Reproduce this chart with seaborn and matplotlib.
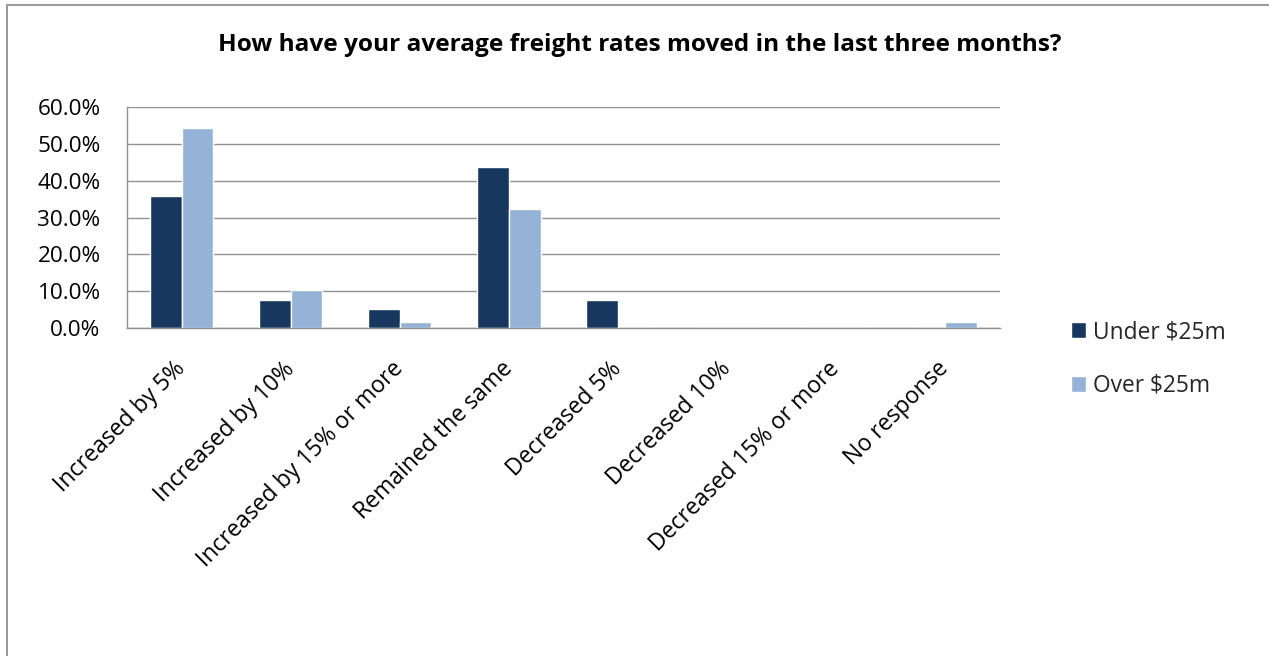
import matplotlib
matplotlib.use("Agg")
import matplotlib.pyplot as plt
from matplotlib.lines import Line2D
from matplotlib.ticker import PercentFormatter
import seaborn as sns
import pandas as pd

categories = [
    "Increased by 5%",
    "Increased by 10%",
    "Increased by 15% or more",
    "Remained the same",
    "Decreased 5%",
    "Decreased 10%",
    "Decreased 15% or more",
    "No response",
]
under_25m = [35.9, 7.7, 5.1, 43.6, 7.7, 0.0, 0.0, 0.0]
over_25m = [54.4, 10.3, 1.5, 32.4, 0.0, 0.0, 0.0, 1.5]
series_names = ["Under $25m", "Over $25m"]
title = "How have your average freight rates moved in the last three months?"

df = pd.DataFrame({
    "category": categories * 2,
    "share": under_25m + over_25m,
    "group": [series_names[0]] * len(categories) + [series_names[1]] * len(categories),
})

sns.set_theme(style="white")
plt.rcParams["font.family"] = ["Open Sans", "DejaVu Sans"]

fig = plt.figure(figsize=(12.69, 6.56), dpi=100)
W, H = 1269, 656
ax = fig.add_axes([127 / W, 1 - 328 / H, (1000 - 127) / W, (328 - 107) / H])

sns.barplot(
    data=df, x="category", y="share", hue="group",
    order=categories, hue_order=series_names,
    palette=["#17375E", "#95B3D7"], width=0.58, gap=0,
    saturation=1, ax=ax, legend=True,
)

grid_color = "#929292"
ax.set_ylim(0, 60)
ax.set_xlim(-0.5, len(categories) - 0.5)
ax.set_yticks(range(0, 61, 10))
ax.yaxis.set_major_formatter(PercentFormatter(decimals=1))
ax.yaxis.grid(True, color=grid_color, linewidth=1)
ax.set_axisbelow(True)
ax.set_xlabel("")
ax.set_ylabel("")
for side in ("top", "right"):
    ax.spines[side].set_visible(False)
for side in ("left", "bottom"):
    ax.spines[side].set_color(grid_color)
    ax.spines[side].set_linewidth(1)

ax.tick_params(axis="y", length=0, pad=19, labelsize=16.2, labelcolor="black")
ax.tick_params(axis="x", length=0, pad=27, labelsize=16.6, labelcolor="black")
plt.setp(ax.get_xticklabels(), rotation=45, ha="right", va="center",
         rotation_mode="anchor")

leg = ax.legend(
    loc="center left", bbox_to_anchor=(1050 / W, 1 - 359 / H),
    bbox_transform=fig.transFigure, frameon=False, fontsize=16.4,
    handlelength=0.7, handleheight=0.7, handletextpad=0.3, labelspacing=1.3,
)

fig.text(640 / W, 1 - 45 / H, title, ha="center", va="center",
         fontsize=17.6, fontweight="bold", color="black")

# chart frame
frame_color = "#9A9A9A"
fig.add_artist(Line2D([7 / W, 7 / W], [0, 1 - 5 / H], transform=fig.transFigure,
                      color=frame_color, linewidth=1.5))
fig.add_artist(Line2D([7 / W, 1], [1 - 5 / H, 1 - 5 / H], transform=fig.transFigure,
                      color=frame_color, linewidth=1.5))

fig.savefig("out.png", dpi=100, facecolor="white")
